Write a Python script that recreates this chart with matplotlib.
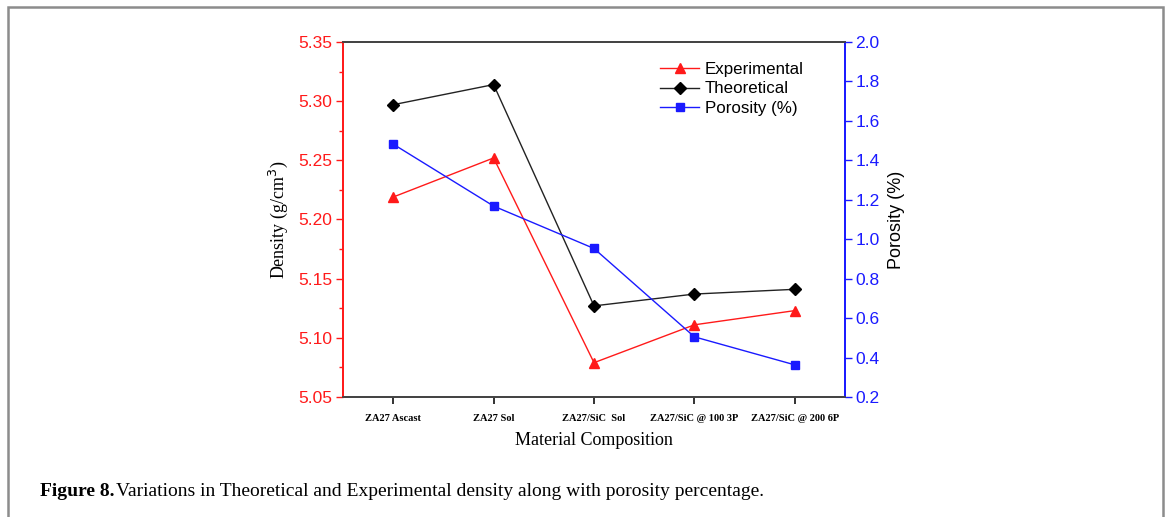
import numpy as np
import matplotlib
matplotlib.use("Agg")
import matplotlib.pyplot as plt
from matplotlib.patches import Rectangle
from matplotlib.ticker import MultipleLocator

# data
categories = ["ZA27 Ascast", "ZA27 Sol", "ZA27/SiC  Sol", "ZA27/SiC @ 100 3P", "ZA27/SiC @ 200 6P"]
experimental = [5.219, 5.252, 5.079, 5.111, 5.123]
theoretical = [5.297, 5.314, 5.127, 5.137, 5.141]
porosity = [1.482, 1.168, 0.953, 0.505, 0.363]

red = "#ff1a1a"
blue = "#1a1aff"

fig = plt.figure(figsize=(11.7, 5.17), dpi=100)
ax = fig.add_axes([0.2932, 0.2321, 0.4290, 0.6867])
ax2 = ax.twinx()

x = np.arange(len(categories))
l1, = ax.plot(x, experimental, color=red, lw=1, marker="^", ms=7, label="Experimental")
l2, = ax.plot(x, theoretical, color="#222222", lw=1, marker="D", ms=6, mfc="black", mec="black", label="Theoretical")
l3, = ax2.plot(x, porosity, color=blue, lw=1, marker="s", ms=6, label="Porosity (%)")

ax.set_xlim(-0.5, 4.5)
ax.set_ylim(5.05, 5.35)
ax2.set_ylim(0.2, 2.0)

ax.set_xticks(x)
ax.set_xticklabels(categories, fontfamily="Liberation Serif", fontweight="bold", fontsize=7.5)
ax.yaxis.set_major_locator(MultipleLocator(0.05))
ax.yaxis.set_minor_locator(MultipleLocator(0.025))
ax.yaxis.set_major_formatter(matplotlib.ticker.FormatStrFormatter("%.2f"))
ax2.yaxis.set_major_locator(MultipleLocator(0.2))
ax2.yaxis.set_major_formatter(matplotlib.ticker.FormatStrFormatter("%.1f"))

for a in (ax, ax2):
    a.spines["top"].set_color("#444444")
    a.spines["bottom"].set_color("#444444")
    a.spines["left"].set_color(red)
    a.spines["right"].set_color(blue)
    for s in a.spines.values():
        s.set_linewidth(1.3)

ax.tick_params(axis="x", direction="out", length=5, width=1.3, color="#222222", pad=7)
ax.tick_params(axis="y", which="major", direction="out", length=5, width=1, colors=red, labelsize=12.5, pad=2.5)
ax.tick_params(axis="y", which="minor", direction="out", length=3, width=1, colors=red)
ax2.tick_params(axis="y", direction="out", length=5, width=1, colors=blue, labelsize=12.5, pad=2.5)
for lab in ax.get_yticklabels() + ax2.get_yticklabels():
    lab.set_fontfamily("Liberation Sans")

ax.set_xlabel("Material Composition", fontfamily="Liberation Serif", fontsize=13, labelpad=7)
ax.set_ylabel("Density (g/cm$^3$)", fontfamily="Liberation Serif", fontsize=13, labelpad=6)
ax2.set_ylabel("Porosity (%)", fontfamily="Liberation Sans", fontsize=13, labelpad=6)

leg = ax.legend(handles=[l1, l2, l3], loc="upper left", bbox_to_anchor=(0.618, 0.962),
                frameon=False, prop={"family": "Liberation Sans", "size": 12.2},
                handlelength=2.3, handletextpad=0.35, labelspacing=0.25, borderaxespad=0)

# page frame
fig.add_artist(Rectangle((8 / 1170, -0.2), (1163 - 8) / 1170, 1.2 - 7 / 517,
                         transform=fig.transFigure, fill=False, edgecolor="#8c8c8c", lw=1.8))

# caption
t1 = fig.text(40 / 1170, 1 - 492 / 517, "Figure 8.", fontfamily="Liberation Serif",
              fontweight="bold", fontsize=14, va="center", ha="left")
fig.canvas.draw()
bb = t1.get_window_extent(fig.canvas.get_renderer())
fig.text(bb.x1 / 1170 + 2 / 1170, 1 - 492 / 517,
         "Variations in Theoretical and Experimental density along with porosity percentage.",
         fontfamily="Liberation Serif", fontsize=14, va="center", ha="left")

fig.savefig("out.png", dpi=100)
